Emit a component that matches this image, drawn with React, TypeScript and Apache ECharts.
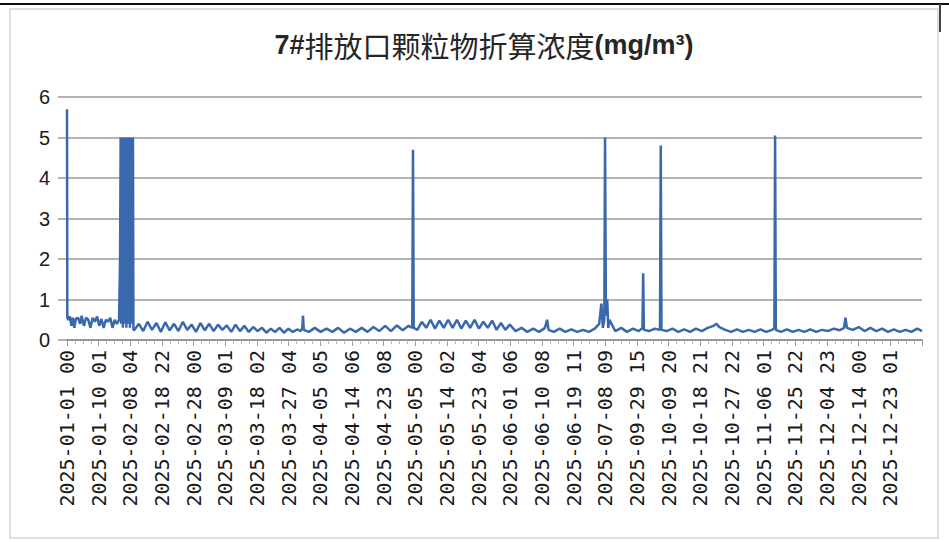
import React, { useEffect, useRef } from "react";
import * as echarts from "echarts";

const titleParts = ["7#", "排放口颗粒物折算浓度", "(mg/m³)"];

const tickLabels = [
  "2025-01-01 00", "2025-01-10 01", "2025-02-08 04", "2025-02-18 22", "2025-02-28 00",
  "2025-03-09 01", "2025-03-18 02", "2025-03-27 04", "2025-04-05 05", "2025-04-14 06",
  "2025-04-23 08", "2025-05-05 00", "2025-05-14 02", "2025-05-23 04", "2025-06-01 06",
  "2025-06-10 08", "2025-06-19 11", "2025-07-08 09", "2025-09-29 15", "2025-10-09 20",
  "2025-10-18 21", "2025-10-27 22", "2025-11-06 01", "2025-11-25 22", "2025-12-04 23",
  "2025-12-14 00", "2025-12-23 01",
];
const pointsPerLabel = 216;
const totalPoints = 5832;

// sample index (hourly record number) and concentration value
const sampleIndex = [
  0, 2, 10, 20, 30, 40, 50, 60, 75, 90, 100, 115, 130, 145, 160, 175, 190, 205, 220, 235,
  250, 265, 280, 295, 310, 325, 340, 355,
  362, 366, 369, 372, 375, 378, 381, 384, 387, 390, 393, 396, 399, 402, 405, 408, 411, 414,
  417, 420, 423, 426, 429, 432, 435, 438, 441, 444, 447, 450, 453,
  460, 490, 520, 550, 580, 610, 640, 670, 700, 730, 760, 790, 820, 850, 880, 910, 940, 970,
  1000, 1030, 1060, 1090, 1120, 1150, 1180, 1210, 1240, 1270, 1300, 1330, 1360, 1390, 1420,
  1450, 1480, 1510, 1540, 1570, 1595, 1605, 1610, 1615,
  1650, 1690, 1730, 1770, 1810, 1850, 1890, 1930, 1970, 2010, 2050, 2090, 2130, 2170, 2210,
  2250, 2290, 2330, 2355, 2360, 2365,
  2390, 2420, 2450, 2480, 2510, 2540, 2570, 2600, 2630, 2660, 2690, 2720, 2750, 2780, 2810,
  2840, 2870, 2900, 2930, 2960, 2990, 3020,
  3060, 3100, 3140, 3180, 3220, 3260, 3275, 3285, 3320, 3360, 3400, 3440, 3480, 3520, 3560,
  3600, 3630, 3645, 3655, 3665, 3670, 3676, 3685, 3692, 3700,
  3740, 3780, 3820, 3860, 3900, 3925, 3930, 3935, 3970, 4010, 4045, 4050, 4055,
  4090, 4130, 4170, 4210, 4250, 4290, 4330, 4370, 4410, 4430, 4450, 4490, 4530, 4570, 4610,
  4650, 4690, 4730, 4770, 4810, 4825, 4830, 4835,
  4870, 4910, 4950, 4990, 5030, 5070, 5110, 5150, 5190, 5230, 5270, 5300, 5310, 5320, 5360,
  5400, 5440, 5480, 5520, 5560, 5600, 5640, 5680, 5720, 5760, 5800, 5832,
];
const concentration = [
  5.7, 0.55, 0.5, 0.58, 0.35, 0.55, 0.3, 0.52, 0.55, 0.4, 0.6, 0.35, 0.55, 0.5, 0.3, 0.55, 0.45, 0.58, 0.35, 0.52,
  0.3, 0.5, 0.45, 0.55, 0.3, 0.5, 0.4, 0.5,
  2.0, 5.0, 0.4, 4.9, 0.5, 5.0, 0.3, 4.95, 0.6, 5.0, 0.4, 4.9, 0.5, 5.0, 0.3, 4.95, 0.5, 5.0,
  0.4, 4.9, 0.5, 5.0, 0.3, 4.95, 0.6, 5.0, 0.4, 4.9, 0.5, 5.0, 0.25,
  0.25, 0.4, 0.22, 0.45, 0.25, 0.42, 0.2, 0.44, 0.24, 0.4, 0.22, 0.45, 0.25, 0.38, 0.2, 0.42, 0.24, 0.4,
  0.22, 0.38, 0.25, 0.36, 0.2, 0.38, 0.22, 0.35, 0.2, 0.32, 0.22, 0.3, 0.18, 0.28, 0.2,
  0.3, 0.18, 0.28, 0.2, 0.26, 0.22, 0.3, 0.6, 0.25,
  0.2, 0.3, 0.2, 0.28, 0.2, 0.3, 0.18, 0.28, 0.2, 0.3, 0.2, 0.32, 0.22, 0.35, 0.22,
  0.36, 0.24, 0.35, 0.3, 4.7, 0.3,
  0.25, 0.45, 0.3, 0.5, 0.28, 0.48, 0.3, 0.5, 0.3, 0.5, 0.28, 0.48, 0.3, 0.5, 0.28,
  0.45, 0.3, 0.48, 0.25, 0.42, 0.25, 0.38,
  0.22, 0.3, 0.2, 0.28, 0.2, 0.3, 0.5, 0.25, 0.2, 0.28, 0.2, 0.26, 0.2, 0.25, 0.2,
  0.28, 0.4, 0.9, 0.3, 0.5, 5.0, 0.6, 1.0, 0.3, 0.5,
  0.22, 0.3, 0.2, 0.28, 0.22, 0.3, 1.65, 0.25, 0.22, 0.28, 0.25, 4.8, 0.25,
  0.22, 0.28, 0.2, 0.26, 0.2, 0.28, 0.22, 0.3, 0.35, 0.4, 0.32, 0.25, 0.2, 0.26, 0.2,
  0.25, 0.2, 0.26, 0.2, 0.25, 0.3, 5.05, 0.25,
  0.2, 0.26, 0.2, 0.25, 0.2, 0.26, 0.2, 0.25, 0.22, 0.28, 0.24, 0.3, 0.55, 0.3, 0.25,
  0.32, 0.22, 0.3, 0.22, 0.28, 0.2, 0.26, 0.2, 0.25, 0.2, 0.28, 0.22,
];

const yTicks = { min: 0, max: 6, interval: 1 };

export default function App() {
  const ref = useRef<HTMLDivElement>(null);

  useEffect(() => {
    if (!ref.current) return;
    const chart = echarts.init(ref.current, undefined, { renderer: "svg" });
    const seriesData = sampleIndex.map((x, i) => [x, concentration[i]]);
    chart.setOption({
      animation: false,
      backgroundColor: "#ffffff",
      graphic: [
        { type: "line", shape: { x1: 0, y1: 4, x2: 949, y2: 4 }, style: { stroke: "#111", lineWidth: 2 }, z: 10 },
        { type: "line", shape: { x1: 940, y1: 4, x2: 940, y2: 32 }, style: { stroke: "#444", lineWidth: 2 }, z: 10 },
        { type: "rect", shape: { x: 10, y: 9, width: 928, height: 529 }, style: { fill: "none", stroke: "#d4d4d4", lineWidth: 1.5 }, z: 0 },
        {
          type: "text",
          x: 484,
          y: 45,
          style: {
            text: `{b|${titleParts[0]}}{n|${titleParts[1]}}{b|${titleParts[2]}}`,
            textAlign: "center",
            textVerticalAlign: "middle",
            rich: {
              b: { fontSize: 27, fontWeight: "bold", fontFamily: "Liberation Sans", fill: "#262626" },
              n: { fontSize: 29, fontFamily: "Noto Sans CJK SC", fill: "#262626" },
            },
          },
          z: 10,
        },
      ],
      grid: { left: 67, right: 27, top: 97, bottom: 202, containLabel: false },
      xAxis: {
        type: "value",
        min: 0,
        max: totalPoints,
        interval: pointsPerLabel,
        axisLine: { show: true, lineStyle: { color: "#8c8c8c", width: 1.5 } },
        axisTick: { show: true, length: 6, lineStyle: { color: "#9a9a9a" } },
        minorTick: { show: true, splitNumber: 4, length: 4, lineStyle: { color: "#b5b5b5" } },
        splitLine: { show: false },
        axisLabel: {
          rotate: 90,
          margin: 10,
          fontSize: 20,
          fontFamily: "DejaVu Sans Mono",
          color: "#1a1a1a",
          formatter: (v: number) => {
            const k = Math.round(v / pointsPerLabel);
            return tickLabels[k] ?? "";
          },
        },
      },
      yAxis: {
        type: "value",
        min: yTicks.min,
        max: yTicks.max,
        interval: yTicks.interval,
        axisLine: { show: false },
        axisTick: { show: true, length: 9, lineStyle: { color: "#9a9a9a", width: 1.5 } },
        splitLine: { show: true, lineStyle: { color: "#9a9a9a", width: 1.5 } },
        axisLabel: {
          margin: 17,
          fontSize: 20,
          fontFamily: "Liberation Sans",
          color: "#1a1a1a",
        },
      },
      series: [
        {
          type: "line",
          data: seriesData,
          showSymbol: false,
          symbol: "none",
          lineStyle: { color: "#3a68ad", width: 2.5 },
          z: 5,
        },
      ],
    });
    return () => chart.dispose();
  }, []);

  return (
    <div
      ref={ref}
      style={{ position: "fixed", left: 0, top: 0, width: 949, height: 542 }}
    />
  );
}
